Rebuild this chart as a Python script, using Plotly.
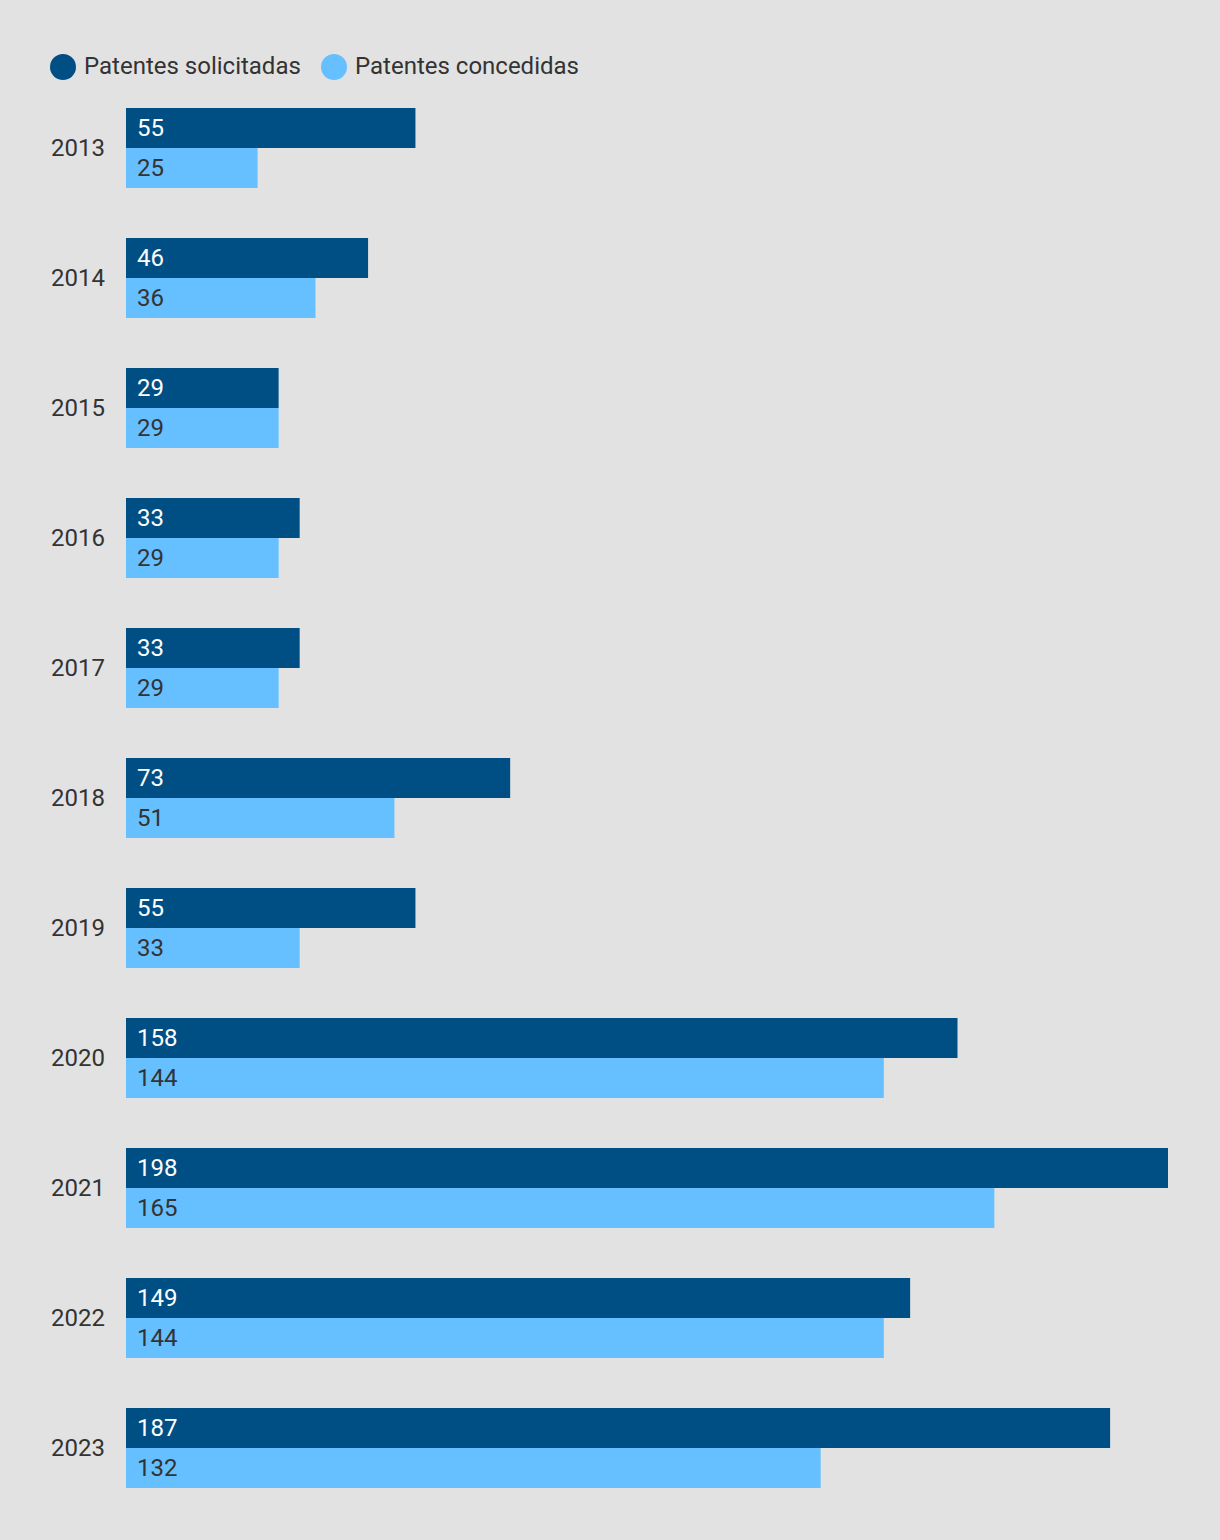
import plotly.graph_objects as go

years = ["2013", "2014", "2015", "2016", "2017", "2018", "2019", "2020", "2021", "2022", "2023"]
solicitadas = [55, 46, 29, 33, 33, 73, 55, 158, 198, 149, 187]
concedidas = [25, 36, 29, 29, 29, 51, 33, 144, 165, 144, 132]
series_names = ["Patentes solicitadas", "Patentes concedidas"]

DARK = "#004f84"
LIGHT = "#66bfff"
BG = "#e2e2e2"
TXT = "#333333"
FONT = "Roboto"
FS = 24

W, H = 1220, 1540
ML, MR, MT, MB = 126, 52, 83, 27

fig = go.Figure()
fig.add_trace(go.Bar(y=years, x=solicitadas, orientation="h", name=series_names[0],
                     marker=dict(color=DARK, line=dict(width=0)), showlegend=False,
                     hoverinfo="x+y"))
fig.add_trace(go.Bar(y=years, x=concedidas, orientation="h", name=series_names[1],
                     marker=dict(color=LIGHT, line=dict(width=0)), showlegend=False,
                     hoverinfo="x+y"))

annotations = []
for i, (a, b) in enumerate(zip(solicitadas, concedidas)):
    annotations.append(dict(x=0, y=i, xref="x", yref="y", text=str(a), showarrow=False,
                            xanchor="left", yanchor="middle", xshift=9, yshift=20,
                            font=dict(family=FONT, size=FS, color="white")))
    annotations.append(dict(x=0, y=i, xref="x", yref="y", text=str(b), showarrow=False,
                            xanchor="left", yanchor="middle", xshift=9, yshift=-20,
                            font=dict(family=FONT, size=FS, color=TXT)))

# custom legend (pixel -> paper)
pw = W - ML - MR
ph = H - MT - MB
def px(xp):
    return (xp - ML) / pw
def py(yp):
    return (H - MB - yp) / ph

shapes = []
legend_items = [(63, series_names[0], DARK, 82), (334, series_names[1], LIGHT, 353)]
for cx, name, col, tx in legend_items:
    r = 13
    shapes.append(dict(type="circle", xref="paper", yref="paper",
                       x0=px(cx - r), x1=px(cx + r), y0=py(67 + r), y1=py(67 - r),
                       fillcolor=col, line=dict(width=0)))
    annotations.append(dict(x=px(tx), y=py(66), xref="paper", yref="paper", text=name,
                            showarrow=False, xanchor="left", yanchor="middle",
                            font=dict(family=FONT, size=FS, color=TXT)))

fig.update_layout(
    width=W, height=H,
    margin=dict(l=ML, r=MR, t=MT, b=MB, pad=0),
    paper_bgcolor=BG, plot_bgcolor=BG,
    barmode="group", bargap=50 / 130, bargroupgap=0,
    font=dict(family=FONT, size=FS, color=TXT),
    xaxis=dict(range=[0, 198], visible=False, showgrid=False, zeroline=False, fixedrange=True),
    yaxis=dict(type="category", categoryorder="array", categoryarray=years,
               range=[len(years) - 0.5, -0.5], showgrid=False, zeroline=False,
               showline=False, ticks="", ticklabelstandoff=20, fixedrange=True,
               tickfont=dict(family=FONT, size=FS, color=TXT)),
    shapes=shapes,
    annotations=annotations,
    showlegend=False,
)

fig.write_html("out.html", config={"displayModeBar": False},
               post_script="document.body.style.margin='0';document.body.style.background='%s';" % BG)
